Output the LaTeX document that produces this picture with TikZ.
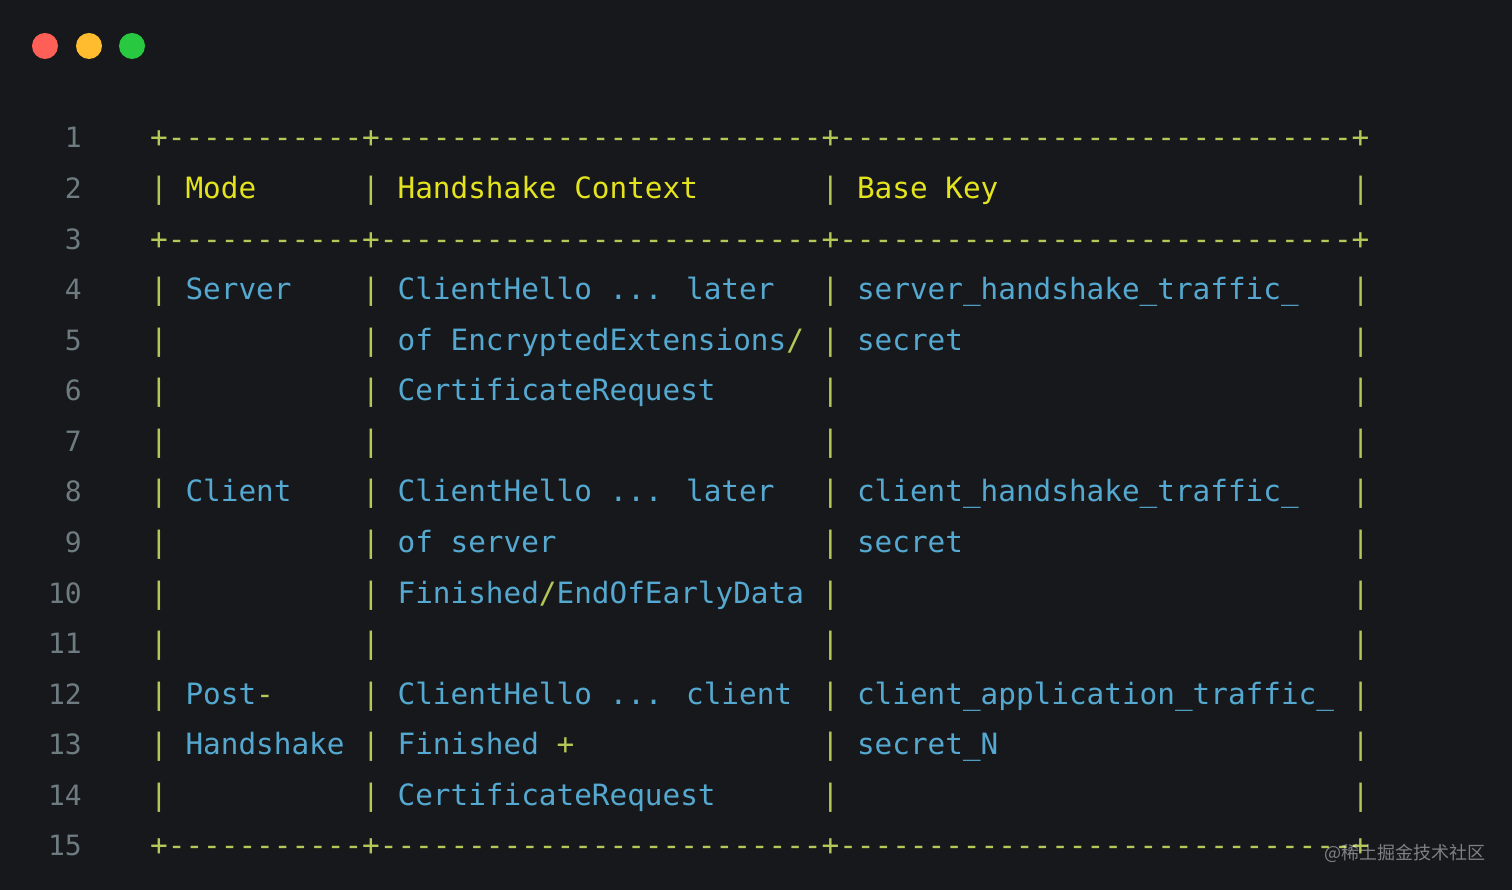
\documentclass[tikz,border=0pt]{standalone}
\usepackage{fontspec}
\newfontfamily\codefont{DejaVu Sans Mono}
\newfontfamily\cjk{Noto Sans CJK SC}
\definecolor{bg}{HTML}{16181B}
\definecolor{gr}{HTML}{B3C957}
\definecolor{ye}{HTML}{E4E41E}
\definecolor{cy}{HTML}{55A8CF}
\definecolor{nm}{HTML}{6E7C82}
\definecolor{lr}{HTML}{FE5F57}
\definecolor{ly}{HTML}{FEBC2E}
\definecolor{lg}{HTML}{28C840}
\newcommand\G[1]{\textcolor{gr}{#1}}
\newcommand\Y[1]{\textcolor{ye}{#1}}
\newcommand\C[1]{\textcolor{cy}{#1}}
\begin{document}
\begin{tikzpicture}[x=1pt,y=1pt,
  tok/.style={anchor=base west,inner sep=0pt,font=\codefont\fontsize{29.35}{30}\selectfont},
  num/.style={anchor=base east,inner sep=0pt,text=nm,font=\codefont\fontsize{28}{30}\selectfont}]
\fill[bg] (0,0) rectangle (1512,890);
\useasboundingbox (0,0) rectangle (1512,890);
\fill[lr] (45,844) circle (13);
\fill[ly] (89,844) circle (13);
\fill[lg] (132,844) circle (13);
\newcommand\rowy[1]{890-138-(#1-1)*50.57-10}
\newcommand\tk[3]{\node[tok] at ({150+#2*17.67},{\rowy{#1}}) {#3};}
\foreach \r in {1,...,15} {\node[num] (n\r) at (82,{\rowy{\r}}) {\r};}
\foreach \r in {1,3,15} {\node[tok] (b\r) at (150,{\rowy{\r}}) {\G{+-----------+-------------------------+-----------------------------+}};}
\foreach \r in {2,4,5,6,7,8,9,10,11,12,13,14} {
  \node[tok] (p0\r) at (150,{\rowy{\r}}) {\G{|}};
  \node[tok] (p1\r) at ({150+12*17.67},{\rowy{\r}}) {\G{|}};
  \node[tok] (p3\r) at ({150+38*17.67},{\rowy{\r}}) {\G{|}};
  \node[tok] (p6\r) at ({150+68*17.67},{\rowy{\r}}) {\G{|}};
}
\tk{2}{2}{\Y{Mode}}
\tk{2}{14}{\Y{Handshake Context}}
\tk{2}{40}{\Y{Base Key}}
\tk{4}{2}{\C{Server}}
\tk{4}{14}{\C{ClientHello ... later}}
\tk{4}{40}{\C{server\_handshake\_traffic\_}}
\tk{5}{14}{\C{of EncryptedExtensions}\G{/}}
\tk{5}{40}{\C{secret}}
\tk{6}{14}{\C{CertificateRequest}}
\tk{8}{2}{\C{Client}}
\tk{8}{14}{\C{ClientHello ... later}}
\tk{8}{40}{\C{client\_handshake\_traffic\_}}
\tk{9}{14}{\C{of server}}
\tk{9}{40}{\C{secret}}
\tk{10}{14}{\C{Finished}\G{/}\C{EndOfEarlyData}}
\tk{12}{2}{\C{Post}\G{-}}
\tk{12}{14}{\C{ClientHello ... client}}
\tk{12}{40}{\C{client\_application\_traffic\_}}
\tk{13}{2}{\C{Handshake}}
\tk{13}{14}{\C{Finished }\G{+}}
\tk{13}{40}{\C{secret\_N}}
\tk{14}{14}{\C{CertificateRequest}}
\node[anchor=east,inner sep=0pt,text=white,opacity=0.45,font=\cjk\fontsize{18}{20}\selectfont] (wm) at (1486,37) {@稀土掘金技术社区};
\end{tikzpicture}
\end{document}
